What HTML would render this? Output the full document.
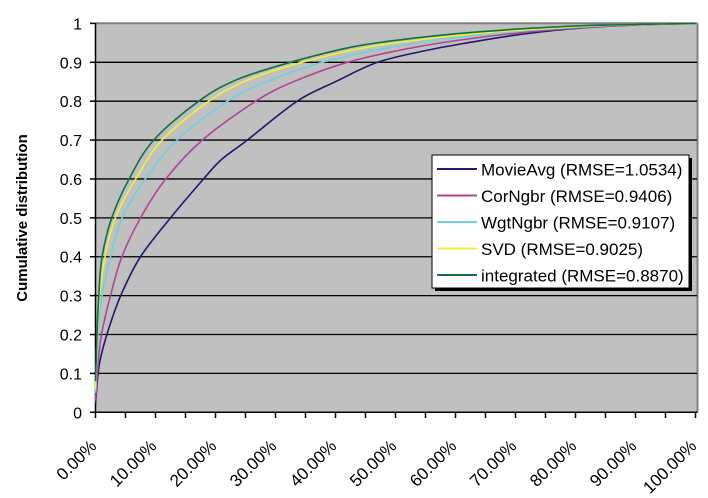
<!DOCTYPE html>
<html><head><meta charset="utf-8"><style>
body{margin:0;background:#fff;}
svg{display:block;font-family:"Liberation Sans",Arial,sans-serif;}
</style></head><body>
<svg width="708" height="498" viewBox="0 0 708 498" xmlns="http://www.w3.org/2000/svg">
<rect x="95.5" y="23.3" width="602" height="389" fill="#c0c0c0"/>
<line x1="95.5" y1="23.3" x2="697.5" y2="23.3" stroke="#808080" stroke-width="2"/>
<line x1="697.5" y1="23.3" x2="697.5" y2="412.3" stroke="#808080" stroke-width="2"/>
<g id="grid" stroke="#000" stroke-width="1.3"></g>
<g id="axes" stroke="#000" stroke-width="1.5"></g>
<g id="ylab" font-size="16" text-anchor="end" fill="#000"></g>
<g id="xlab" font-size="17" text-anchor="end" fill="#000"></g>
<text transform="translate(27,218) rotate(-90)" font-size="15" font-weight="bold" text-anchor="middle">Cumulative distribution</text>
<g id="curves" fill="none" stroke-width="1.6" stroke-linejoin="round"></g>
<rect x="435" y="158" width="257" height="133" fill="#000"/>
<rect x="432" y="155" width="257" height="133" fill="#fff" stroke="#000" stroke-width="1"/>
<g font-size="17" fill="#000">
<line x1="437" y1="169" x2="477" y2="169" stroke="#1f1a6e" stroke-width="2"/><text x="481" y="175.5">MovieAvg (RMSE=1.0534)</text>
<line x1="437" y1="195.5" x2="477" y2="195.5" stroke="#b04595" stroke-width="2"/><text x="481" y="202">CorNgbr (RMSE=0.9406)</text>
<line x1="437" y1="222" x2="477" y2="222" stroke="#6fd0e0" stroke-width="2"/><text x="481" y="228.5">WgtNgbr (RMSE=0.9107)</text>
<line x1="437" y1="248.5" x2="477" y2="248.5" stroke="#f0f040" stroke-width="2"/><text x="481" y="255">SVD (RMSE=0.9025)</text>
<line x1="437" y1="275" x2="477" y2="275" stroke="#107040" stroke-width="2"/><text x="481" y="281.5">integrated (RMSE=0.8870)</text>
</g>
</svg>
<script>
const NS="http://www.w3.org/2000/svg";
function el(p,t,a,txt){const e=document.createElementNS(NS,t);for(const k in a)e.setAttribute(k,a[k]);if(txt)e.textContent=txt;document.getElementById(p).appendChild(e);}
const X=p=>95.5+6*p, Y=v=>412.3-388.9*v;
for(let i=1;i<=9;i++)el("grid","line",{x1:95.5,x2:697,y1:Y(i/10),y2:Y(i/10)});
el("axes","line",{x1:95.5,x2:95.5,y1:23,y2:412.3});
el("axes","line",{x1:90,x2:697.5,y1:412.3,y2:412.3});
for(let i=0;i<=10;i++){el("axes","line",{x1:90,x2:95.5,y1:Y(i/10),y2:Y(i/10)});
 el("ylab","text",{x:82,y:Y(i/10)+6},i==0?"0":i==10?"1":"0."+i);}
for(let i=0;i<=20;i++)el("axes","line",{x1:X(i*5),x2:X(i*5),y1:412.3,y2:418});
for(let i=0;i<=10;i++){const x=X(i*10)+2,y=447;el("xlab","text",{transform:`translate(${x},${y}) rotate(-45)`},(i*10)+".00%");}
const S={
"#1f1a6e":[[0,0.02],[0.6,0.12],[1.9,0.2],[4.2,0.3],[7.5,0.4],[12.5,0.5],[18,0.6],[21,0.65],[25.3,0.7],[33.6,0.8],[40,0.85],[47,0.9],[55,0.93],[62,0.95],[70,0.97],[80,0.987],[90,0.996],[100,1]],
"#b04595":[[0,0.03],[0.4,0.12],[1,0.2],[2.5,0.3],[4.4,0.4],[7.5,0.5],[11.7,0.6],[17.8,0.7],[26.7,0.8],[33,0.85],[42,0.9],[52,0.935],[62,0.96],[72,0.978],[82,0.99],[92,0.997],[100,1]],
"#6fd0e0":[[0,0.05],[0.4,0.2],[1.1,0.3],[2.5,0.4],[4.4,0.5],[8.3,0.6],[13.6,0.7],[22,0.8],[28.5,0.85],[37.8,0.9],[48,0.935],[58,0.96],[68,0.977],[78,0.988],[88,0.996],[100,1]],
"#f0f040":[[0,0.06],[0.3,0.2],[0.7,0.3],[1.6,0.4],[3.3,0.5],[6.7,0.6],[11.1,0.7],[18.9,0.8],[25.5,0.855],[34.4,0.9],[45,0.938],[55,0.96],[65,0.976],[75,0.987],[85,0.995],[100,1]],
"#107040":[[0,0.08],[0.25,0.2],[0.55,0.3],[1.1,0.4],[2.7,0.5],[5.6,0.6],[9.7,0.7],[17.2,0.8],[23.5,0.855],[32.5,0.9],[43,0.94],[53,0.962],[63,0.977],[73,0.988],[83,0.995],[100,1]]};
function spline(pts){const P=pts.map(p=>[X(p[0]),Y(p[1])]);let d="M"+P[0][0].toFixed(1)+","+P[0][1].toFixed(1);
 for(let i=0;i<P.length-1;i++){const p0=P[Math.max(0,i-1)],p1=P[i],p2=P[i+1],p3=P[Math.min(P.length-1,i+2)];
  const c1=[p1[0]+(p2[0]-p0[0])/6,p1[1]+(p2[1]-p0[1])/6],c2=[p2[0]-(p3[0]-p1[0])/6,p2[1]-(p3[1]-p1[1])/6];
  d+=` C${c1[0].toFixed(1)},${c1[1].toFixed(1)} ${c2[0].toFixed(1)},${c2[1].toFixed(1)} ${p2[0].toFixed(1)},${p2[1].toFixed(1)}`;}
 return d;}
for(const c in S){el("curves","path",{stroke:c,d:spline(S[c])});}
</script>
</body></html>
